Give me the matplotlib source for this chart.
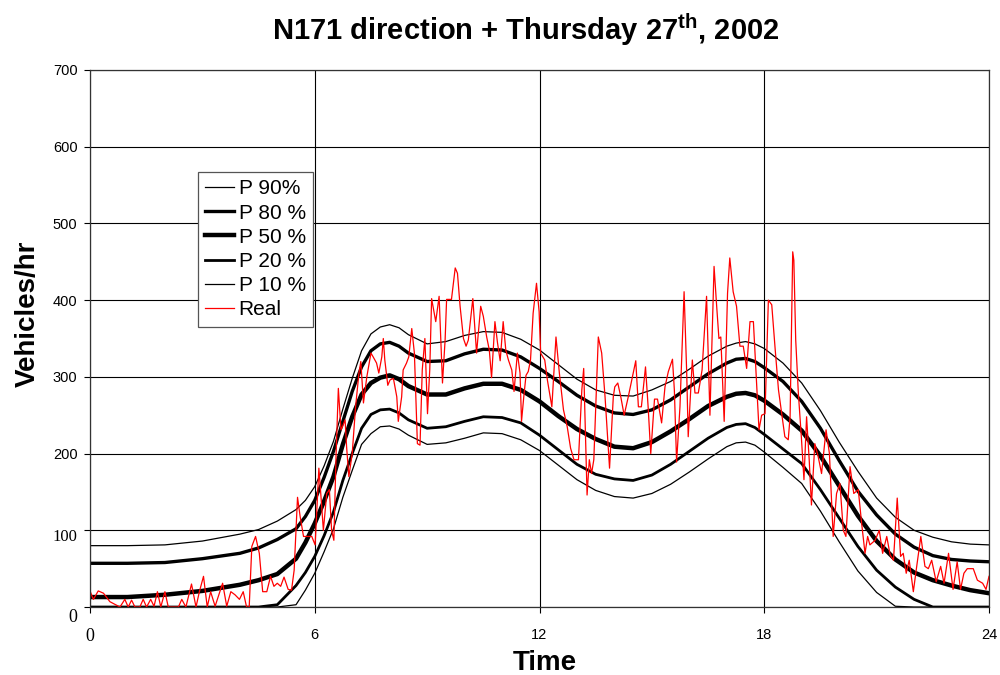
import matplotlib
matplotlib.use("Agg")
import matplotlib.pyplot as plt
import matplotlib.transforms as mtrans

plt.rcParams['font.family'] = ['Liberation Sans', 'DejaVu Sans']
plt.rcParams['mathtext.fontset'] = 'custom'
plt.rcParams['mathtext.rm'] = 'Liberation Sans:bold'
plt.rcParams['mathtext.bf'] = 'Liberation Sans:bold'

# hours of the day where the percentile curves were read
p_time = [0, 1, 2, 3, 4, 4.5, 5, 5.5,
          5.75, 6, 6.25, 6.5, 6.75, 7, 7.25, 7.5, 7.75, 8, 8.25, 8.5,
          9, 9.5, 10, 10.5, 11, 11.5, 12, 12.5, 13, 13.5, 14, 14.5, 15, 15.5, 16, 16.5,
          17, 17.25, 17.5, 17.75, 18,
          18.5, 19, 19.5, 20, 20.5, 21, 21.5, 22, 22.5, 23, 23.5, 24]

p90 = [80, 80, 81, 86, 95, 101, 112, 127,
       139, 157, 184, 216, 258, 298, 334, 356, 365, 368, 364, 355,
       343, 346, 354, 359, 358, 349, 335, 316, 297, 283, 276, 275, 283, 294, 310, 327,
       340, 344, 346, 343, 337,
       318, 292, 256, 215, 177, 142, 117, 100, 91, 85, 82, 81]
p80 = [57, 57, 58, 63, 70, 77, 88, 102,
       118, 139, 169, 203, 242, 281, 313, 334, 343, 345, 340, 331,
       320, 321, 330, 336, 335, 326, 311, 294, 276, 262, 253, 251, 257, 270, 287, 304,
       318, 323, 324, 320, 312,
       294, 268, 233, 191, 151, 120, 95, 78, 67, 62, 60, 59]
p50 = [13, 13, 16, 21, 29, 35, 43, 63,
       84, 109, 138, 170, 212, 248, 277, 292, 299, 302, 297, 288,
       277, 277, 285, 291, 291, 283, 268, 249, 232, 219, 209, 207, 215, 229, 245, 262,
       274, 278, 279, 276, 269,
       251, 230, 197, 158, 119, 86, 62, 45, 35, 28, 22, 18]
p20 = [0, 0, 0, 0, 0, 0, 3, 28,
       45, 66, 93, 124, 165, 200, 233, 251, 257, 258, 253, 244,
       233, 235, 242, 248, 247, 240, 224, 205, 186, 173, 167, 165, 172, 186, 203, 220,
       234, 238, 239, 234, 225,
       206, 187, 153, 116, 79, 48, 26, 10, 0, 0, 0, 0]
p10 = [0, 0, 0, 0, 0, 0, 0, 3,
       22, 44, 72, 102, 143, 178, 212, 226, 235, 236, 232, 224,
       212, 214, 220, 227, 226, 218, 204, 185, 166, 152, 144, 142, 148, 160, 176, 193,
       209, 214, 215, 211, 202,
       182, 161, 125, 85, 47, 19, 1, 0, 0, 0, 0, 0]

# measured flow (hour, vehicles/hr)
real = [(0.00, 21), (0.09, 10), (0.22, 21), (0.36, 18), (0.53, 7), (0.80, 0),
        (0.93, 10), (1.02, 0), (1.11, 9), (1.20, 0), (1.33, 0), (1.42, 10),
        (1.51, 0), (1.62, 10), (1.71, 1), (1.80, 20), (1.89, 0), (2.00, 20),
        (2.09, 0), (2.36, 0), (2.45, 10), (2.56, 0), (2.71, 30), (2.83, 0),
        (2.92, 20), (3.03, 40), (3.13, 0), (3.22, 20), (3.34, 1), (3.54, 31),
        (3.65, 1), (3.76, 20), (3.87, 16), (3.99, 10), (4.09, 20), (4.18, 0),
        (4.25, 0), (4.32, 79), (4.42, 92), (4.52, 70), (4.61, 20), (4.72, 20),
        (4.82, 40), (4.91, 27), (5.00, 31), (5.09, 27), (5.18, 39), (5.29, 23),
        (5.38, 22), (5.45, 48), (5.54, 143), (5.61, 118), (5.70, 92), (5.92, 92),
        (6.01, 81), (6.05, 122), (6.11, 181), (6.18, 135), (6.23, 100), (6.32, 148),
        (6.39, 153), (6.45, 100), (6.51, 87), (6.57, 200), (6.63, 285), (6.70, 231),
        (6.74, 235), (6.81, 244), (6.85, 209), (6.91, 170), (7.00, 200), (7.09, 261),
        (7.18, 305), (7.23, 320), (7.30, 266), (7.39, 300), (7.50, 331), (7.56, 326),
        (7.65, 318), (7.71, 305), (7.79, 326), (7.83, 350), (7.87, 322), (7.95, 289),
        (8.01, 296), (8.10, 298), (8.19, 274), (8.23, 242), (8.32, 274), (8.36, 309),
        (8.45, 318), (8.51, 326), (8.59, 363), (8.66, 331), (8.74, 213), (8.81, 211),
        (8.87, 309), (8.94, 350), (9.01, 252), (9.07, 309), (9.12, 402), (9.23, 372),
        (9.32, 405), (9.41, 292), (9.48, 348), (9.52, 401), (9.65, 401), (9.75, 442),
        (9.81, 435), (9.88, 392), (9.97, 350), (10.04, 340), (10.10, 348), (10.22, 402),
        (10.32, 331), (10.43, 392), (10.50, 379), (10.59, 352), (10.66, 335), (10.72, 299),
        (10.81, 372), (10.88, 344), (10.95, 321), (11.03, 372), (11.10, 335), (11.17, 322),
        (11.26, 309), (11.32, 281), (11.41, 331), (11.48, 305), (11.52, 242), (11.58, 274),
        (11.64, 302), (11.70, 307), (11.76, 322), (11.83, 383), (11.92, 422), (11.99, 385),
        (12.03, 331), (12.14, 322), (12.21, 296), (12.33, 261), (12.44, 352), (12.53, 305),
        (12.64, 257), (12.74, 235), (12.83, 207), (12.92, 192), (13.04, 192), (13.13, 283),
        (13.18, 311), (13.27, 146), (13.33, 192), (13.39, 174), (13.45, 192), (13.57, 352),
        (13.66, 331), (13.75, 274), (13.87, 181), (13.97, 274), (14.01, 287), (14.09, 292),
        (14.17, 274), (14.26, 250), (14.37, 274), (14.50, 305), (14.57, 321), (14.64, 261),
        (14.72, 261), (14.83, 313), (14.90, 261), (14.97, 200), (15.07, 271), (15.15, 271),
        (15.26, 240), (15.35, 287), (15.44, 307), (15.55, 323), (15.60, 283), (15.66, 189),
        (15.75, 261), (15.86, 411), (15.93, 305), (15.97, 222), (16.08, 322), (16.15, 279),
        (16.24, 279), (16.34, 309), (16.46, 405), (16.55, 250), (16.66, 444), (16.73, 392),
        (16.79, 350), (16.84, 352), (16.93, 242), (17.02, 409), (17.08, 455), (17.17, 411),
        (17.26, 392), (17.35, 340), (17.44, 340), (17.53, 311), (17.62, 372), (17.71, 372),
        (17.75, 335), (17.86, 231), (17.93, 250), (18.02, 252), (18.11, 400), (18.20, 394),
        (18.29, 337), (18.38, 283), (18.55, 222), (18.64, 218), (18.69, 248), (18.76, 463),
        (18.79, 452), (18.84, 348), (18.91, 279), (18.99, 222), (19.06, 166), (19.13, 248),
        (19.20, 192), (19.26, 133), (19.35, 213), (19.44, 196), (19.53, 174), (19.65, 231),
        (19.74, 200), (19.84, 92), (19.93, 148), (20.02, 161), (20.11, 100), (20.18, 92),
        (20.29, 183), (20.39, 148), (20.51, 153), (20.60, 109), (20.69, 70), (20.76, 92),
        (20.82, 81), (20.96, 87), (21.07, 100), (21.16, 70), (21.27, 92), (21.36, 68),
        (21.45, 61), (21.55, 142), (21.64, 66), (21.71, 70), (21.79, 44), (21.87, 61),
        (21.98, 20), (22.07, 53), (22.18, 92), (22.29, 53), (22.38, 50), (22.47, 61),
        (22.59, 33), (22.71, 53), (22.80, 31), (22.92, 70), (23.04, 23), (23.15, 59),
        (23.24, 23), (23.33, 44), (23.42, 50), (23.58, 50), (23.69, 35), (23.83, 31),
        (23.92, 23), (24.00, 40)]

x_ticks = [0, 6, 12, 18, 24]
y_ticks = [0, 100, 200, 300, 400, 500, 600, 700]

real_t = [p[0] for p in real]
real_v = [p[1] for p in real]

fig = plt.figure(figsize=(10, 6.75), dpi=100)
ax = fig.add_axes([0.09, 0.1007, 0.899, 0.7956])

ax.plot(p_time, p90, color='black', lw=0.9, label='P 90%')
ax.plot(p_time, p80, color='black', lw=2.4, label='P 80 %')
ax.plot(p_time, p50, color='black', lw=3.2, label='P 50 %')
ax.plot(p_time, p20, color='black', lw=2.0, label='P 20 %')
ax.plot(p_time, p10, color='black', lw=0.9, label='P 10 %')
ax.plot(real_t, real_v, color='red', lw=0.9, label='Real')

ax.set_xlim(0, 24)
ax.set_ylim(0, 700)
ax.set_xticks(x_ticks, labels=[str(v) for v in x_ticks])
ax.set_yticks(y_ticks, labels=[str(v) for v in y_ticks])
ax.grid(True, color='black', lw=0.8)
ax.set_axisbelow(True)
for s in ax.spines.values():
    s.set_color('#333333')
    s.set_linewidth(0.9)
ax.tick_params(axis='both', direction='out', length=4, width=0.8, labelsize=10.5)
ax.tick_params(axis='x', pad=11)
ax.tick_params(axis='y', pad=5)

# a few tick labels came out in a serif face, slightly lowered
for lab in ax.get_yticklabels():
    if lab.get_text() == '0':
        lab.set_fontfamily('Liberation Serif')
        lab.set_fontsize(13)
        lab.set_transform(lab.get_transform() + mtrans.ScaledTranslation(0, -6 / 72, fig.dpi_scale_trans))
    elif lab.get_text() == '100':
        lab.set_fontfamily('Liberation Serif')
        lab.set_fontsize(12)
        lab.set_transform(lab.get_transform() + mtrans.ScaledTranslation(0, -3.5 / 72, fig.dpi_scale_trans))
for lab in ax.get_xticklabels():
    if lab.get_text() == '0':
        lab.set_fontfamily('Liberation Serif')
        lab.set_fontsize(13)

ax.set_xlabel('Time', fontsize=20, fontweight='bold')
ax.xaxis.set_label_coords(0.506, -0.08)
ax.set_ylabel('Vehicles/hr', fontsize=20, fontweight='bold')
ax.yaxis.set_label_coords(-0.055, 0.546)

fig.text(0.526, 1 - 30 / 675, r'N171 direction + Thursday 27$^{\mathbf{th}}$, 2002',
         ha='center', va='center', fontsize=21, fontweight='bold')

leg = ax.legend(loc='upper left', bbox_to_anchor=(0.12, 0.81), borderaxespad=0,
                fontsize=15, frameon=True, fancybox=False, framealpha=1,
                edgecolor='#555555', handlelength=1.4, handletextpad=0.2,
                borderpad=0.35, labelspacing=0.25)
leg.get_frame().set_linewidth(0.9)

fig.savefig('out.png', dpi=100)
